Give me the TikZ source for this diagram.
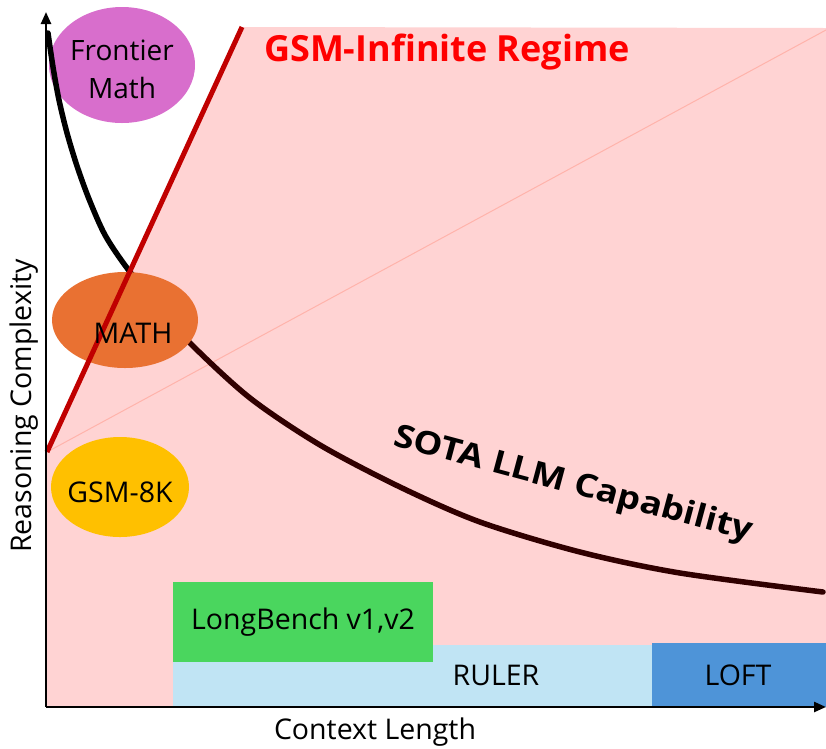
\documentclass[tikz,border=0pt]{standalone}
\usepackage{fontspec}
\setmainfont{Open Sans}
\usetikzlibrary{shapes.geometric,arrows.meta}
\definecolor{regime}{HTML}{FFD3D3}
\definecolor{thinred}{HTML}{FFB3AB}
\definecolor{darkred}{HTML}{C00000}
\definecolor{curvebrown}{HTML}{300000}
\definecolor{frontier}{HTML}{D86ECC}
\definecolor{mathc}{HTML}{E97132}
\definecolor{gsmc}{HTML}{FFC000}
\definecolor{rulerc}{HTML}{C0E4F4}
\definecolor{loftc}{HTML}{4E94D8}
\definecolor{longc}{HTML}{4AD65E}
\definecolor{titlered}{HTML}{FF0000}
\tikzset{
  bench/.style={ellipse, inner sep=0pt, draw=none},
  lbl/.style={inner sep=0pt, font=\fontsize{28.5}{34}\selectfont},
  axis/.style={line width=2.4pt, -{Triangle[length=12pt,width=10pt]}},
}
\begin{document}
\begin{tikzpicture}[x=1pt,y=-1pt]
\useasboundingbox (0,0) rectangle (826,748);
% regime area
\coordinate (o) at (46,707);
\coordinate (rb) at (47,452);
\coordinate (rt) at (242,27);
\coordinate (tr) at (826,28);
\coordinate (tr2) at (826,30);
\fill[regime] (rb) -- (rt) -- (tr) -- (826,707) -- (46,707) -- cycle;
\draw[thinred, line width=1pt] (rb) -- (tr2);
% benchmark boxes
\node[fill=rulerc, minimum width=479pt, minimum height=61pt, inner sep=0pt, anchor=north west] (ruler) at (173,645) {};
\node[fill=loftc, minimum width=174pt, minimum height=64pt, inner sep=0pt, anchor=north west] (loft) at (652,643) {};
\node[fill=longc, minimum width=260pt, minimum height=80pt, inner sep=0pt, anchor=north west] (longb) at (173,582) {};
\node[lbl] (rulert) at (496,675) {RULER};
\node[lbl] (loftt) at (738,675) {LOFT};
\node[lbl] (longt) at (303,622) {LongBench v1,v2};
% frontier ellipse
\node[bench, fill=frontier, minimum width=146pt, minimum height=116pt] (fm) at (122,65) {};
% capability curve
\draw[black, line width=5.5pt, line cap=round] plot[smooth] coordinates {(48,33) (53,67) (59,100) (67,133) (77,166) (89,199) (105,235) (127,268) (165,316)};
\draw[curvebrown, line width=5.5pt, line cap=round] plot[smooth] coordinates {(150,298) (190,343) (250,398) (320,445) (400,487) (480,522) (580,552) (680,573) (823,592)};
% MATH ellipse
\node[bench, fill=mathc, minimum width=146pt, minimum height=96pt] (math) at (125,320) {};
% GSM-Infinite boundary
\draw[darkred, line width=5pt] (rb) -- (rt);
% GSM-8K ellipse
\node[bench, fill=gsmc, minimum width=138pt, minimum height=100pt] (gsm) at (120,487) {};
% labels
\node[lbl, align=center, font=\fontsize{28}{38}\selectfont] (fmt) at (122,69) {Frontier\\Math};
\node[lbl] (matht) at (133,333) {MATH};
\node[lbl] (gsmt) at (120,492) {GSM-8K};
\node[inner sep=0pt, text=titlered, font=\fontsize{36}{40}\selectfont\bfseries] (regt) at (447,52) {GSM-Infinite Regime};
\node[inner sep=0pt, rotate=-15, font=\fontsize{32}{36}\selectfont\bfseries] (sota) at (573,485) {\scalebox{1.14}[1]{SOTA LLM Capability}};
% axes
\draw[axis] (o) -- (826,707) coordinate (xend);
\draw[axis] (o) -- (46,12) coordinate (yend);
\node[lbl, rotate=90] (ylab) at (24,406) {Reasoning Complexity};
\node[lbl] (xlab) at (375,732) {Context Length};
\end{tikzpicture}
\end{document}
